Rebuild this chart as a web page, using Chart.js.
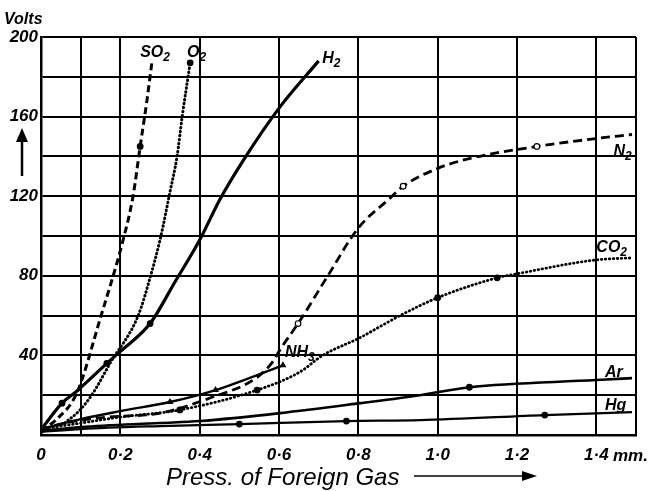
<!DOCTYPE html>
<html>
<head>
<meta charset="utf-8">
<script src="https://cdn.jsdelivr.net/npm/chart.js@4.4.1/dist/chart.umd.min.js"></script>
<style>
  html, body { margin: 0; padding: 0; background: #fff; }
  #wrap { width: 649px; height: 491px; }
</style>
</head>
<body>
<div id="wrap"><canvas id="gasChart"></canvas></div>
<script>
// grid / tick positions
const xTicks = [0, 0.1, 0.2, 0.4, 0.6, 0.8, 1.0, 1.2, 1.4, 1.5];
const yTicks = [0, 20, 40, 60, 80, 100, 120, 140, 160, 180, 200];

// curves: [pressure mm, volts]
const so2 = [[0, 2], [0.04, 8], [0.09, 21], [0.15, 59], [0.207, 98], [0.232, 120], [0.25, 145], [0.267, 168], [0.28, 188]];
const o2  = [[0.06, 6], [0.098, 12.5], [0.131, 21], [0.174, 36], [0.245, 60], [0.275, 79], [0.30, 98], [0.325, 122], [0.343, 140], [0.356, 160], [0.376, 187]];
const h2  = [[0.005, 4], [0.053, 16], [0.09, 22], [0.166, 36], [0.2, 42], [0.275, 56], [0.338, 77], [0.40, 98], [0.45, 118], [0.51, 138], [0.603, 165], [0.70, 188]];
const n2  = [[0, 3], [0.073, 6.5], [0.17, 9], [0.3, 11], [0.426, 18.6], [0.545, 29], [0.585, 37], [0.603, 43], [0.648, 56], [0.72, 79], [0.80, 104], [0.88, 119], [0.913, 125], [1.0, 134], [1.082, 139], [1.25, 145], [1.40, 149], [1.49, 151]];
const nh3 = [[0.02, 4], [0.1, 8], [0.2, 12], [0.325, 16.6], [0.44, 22.6], [0.61, 35]];
const co2 = [[0, 3], [0.1, 6], [0.2, 9], [0.35, 12.6], [0.545, 22.6], [0.653, 31.7], [0.71, 40], [0.805, 49], [0.905, 60], [1.0, 69], [1.15, 79], [1.2, 81], [1.40, 88], [1.49, 89]];
const ar  = [[0, 2], [0.1, 4], [0.3, 6], [0.4, 7], [0.603, 11], [0.805, 16], [0.956, 20], [1.08, 24], [1.40, 27.6], [1.49, 28.6]];
const hg  = [[0, 1.5], [0.1, 3], [0.3, 4.5], [0.5, 5.5], [0.77, 7], [0.956, 7.5], [1.27, 10], [1.49, 11.5]];

const FONT = "'Liberation Sans', Arial, sans-serif";

function pts(arr) { return arr.map(p => ({ x: p[0], y: p[1] })); }
function marks(idx, r) { return ctx => idx.includes(ctx.dataIndex) ? r : 0; }
function fmtX(v) {
    if (v === 0) return '0';
    if (v === 0.1 || v === 1.5) return '';
    return v.toFixed(1).replace('.', '\u00b7');
}

function line(label, arr, width, dash, markIdx, style) {
    return {
        label: label,
        data: pts(arr),
        borderColor: '#000',
        backgroundColor: style === 'open' ? '#fff' : '#000',
        borderWidth: width,
        borderDash: dash,
        borderCapStyle: dash.length && dash[0] < 2 ? 'round' : 'butt',
        pointRadius: marks(markIdx, 2.8),
        pointStyle: style === 'tri' ? 'triangle' : 'circle',
        pointBorderColor: '#000',
        pointBorderWidth: 1.2,
        fill: false,
        tension: 0.35,
        cubicInterpolationMode: 'monotone'
    };
}

// text labels, arrows, axis captions
const annotations = {
    id: 'annotations',
    afterDraw(chart) {
        const c = chart.ctx;
        const xs = chart.scales.x, ys = chart.scales.y;
        c.save();
        c.fillStyle = '#000';
        c.strokeStyle = '#000';
        c.textBaseline = 'alphabetic';
        c.textAlign = 'left';

        function chem(base, sub, dx, dy) {
            const x = xs.getPixelForValue(dx), y = ys.getPixelForValue(dy);
            c.font = 'italic bold 16px ' + FONT;
            c.fillText(base, x, y);
            if (sub) {
                const w = c.measureText(base).width;
                c.font = 'italic bold 12px ' + FONT;
                c.fillText(sub, x + w, y + 4);
            }
        }
        chem('SO', '2', 0.25, 190);
        chem('O', '2', 0.368, 190);
        chem('H', '2', 0.709, 187);
        chem('N', '2', 1.443, 140);
        chem('CO', '2', 1.40, 92);
        chem('NH', '3', 0.615, 39);
        chem('Ar', '', 1.422, 29);
        chem('Hg', '', 1.422, 12.5);

        // "Volts" caption and up arrow
        c.font = 'italic bold 16px ' + FONT;
        c.fillText('Volts', 4, 24);
        c.lineWidth = 2.5;
        c.beginPath();
        c.moveTo(22, 176); c.lineTo(22, 134);
        c.stroke();
        c.beginPath();
        c.moveTo(22, 128); c.lineTo(16, 142); c.lineTo(28, 142); c.closePath();
        c.fill();

        // "mm." after last tick
        c.font = 'italic bold 17px ' + FONT;
        c.fillText('mm.', 613, 461);

        // x caption and arrow
        c.font = 'italic 24px ' + FONT;
        c.fillText('Press. of Foreign Gas', 166, 485);
        c.lineWidth = 1.6;
        c.beginPath();
        c.moveTo(414, 476); c.lineTo(530, 476);
        c.stroke();
        c.beginPath();
        c.moveTo(537, 476); c.lineTo(522, 471); c.lineTo(522, 481); c.closePath();
        c.fill();
        c.restore();
    }
};

new Chart(document.getElementById('gasChart'), {
    type: 'line',
    data: {
        datasets: [
            line('SO2', so2, 3, [7, 4], [6], 'dot'),
            line('O2', o2, 3, [0.5, 3.5], [10], 'dot'),
            line('H2', h2, 3.2, [], [1, 3, 5], 'dot'),
            line('N2', n2, 2.8, [9, 5], [8, 12, 15], 'open'),
            line('NH3', nh3, 2.4, [], [3, 4, 5], 'tri'),
            line('CO2', co2, 2.8, [0.5, 3.5], [3, 4, 9, 10], 'dot'),
            line('Ar', ar, 2.6, [], [7], 'dot'),
            line('Hg', hg, 2.2, [], [3, 4, 6], 'dot')
        ]
    },
    options: {
        responsive: true,
        maintainAspectRatio: false,
        animation: false,
        layout: { padding: { top: 37, right: 13, bottom: 0, left: 0 } },
        plugins: { legend: { display: false }, tooltip: { enabled: false } },
        scales: {
            x: {
                type: 'linear',
                min: 0,
                max: 1.5,
                afterBuildTicks: s => { s.ticks = xTicks.map(v => ({ value: v })); },
                afterFit: s => { s.height = 56; },
                grid: { color: '#000', lineWidth: 2, drawTicks: false },
                border: { color: '#000', width: 2.5 },
                ticks: {
                    autoSkip: false,
                    maxRotation: 0,
                    padding: 10,
                    color: '#000',
                    font: { family: FONT, size: 17, style: 'italic', weight: 'bold' },
                    callback: v => fmtX(v)
                }
            },
            y: {
                min: 0,
                max: 200,
                afterBuildTicks: s => { s.ticks = yTicks.map(v => ({ value: v })); },
                afterFit: s => { s.width = 41; },
                grid: { color: '#000', lineWidth: 2, drawTicks: false },
                border: { color: '#000', width: 2.5 },
                ticks: {
                    autoSkip: false,
                    padding: 3,
                    color: '#000',
                    font: { family: FONT, size: 17, style: 'italic', weight: 'bold' },
                    callback: v => (v > 0 && v % 40 === 0) ? String(v) : ''
                }
            }
        }
    },
    plugins: [annotations]
});
</script>
</body>
</html>
